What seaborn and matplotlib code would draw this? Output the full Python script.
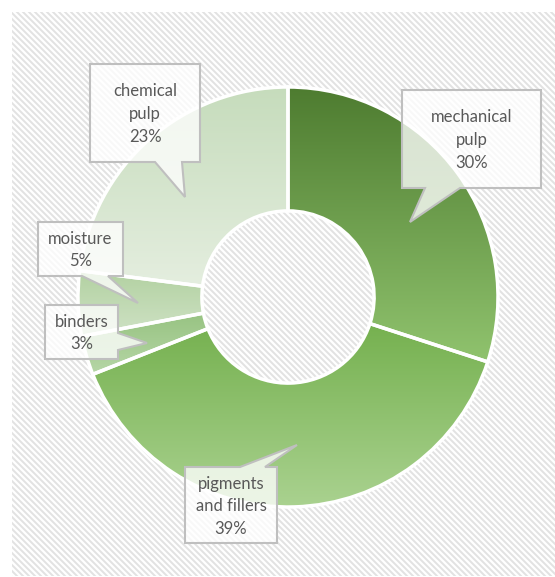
import numpy as np
import matplotlib
matplotlib.use("Agg")
import matplotlib.pyplot as plt
import seaborn as sns
from matplotlib.patches import Rectangle, Polygon
from matplotlib.collections import LineCollection

sns.set_style("white")
plt.rcParams["font.family"] = ["Lato", "DejaVu Sans"]

# data (clockwise from 12 o'clock)
components = ["mechanical\npulp", "pigments\nand fillers", "binders", "moisture", "chemical\npulp"]
shares = [30, 39, 3, 5, 23]

# gradient colours per wedge (top -> bottom)
top_colors = ["#4E7C30", "#6EAC46", "#8FBE78", "#B2D1A1", "#C6DCBC"]
bottom_colors = ["#90C36E", "#AAD290", "#B6D6A6", "#CFE2C5", "#E6EFE1"]

# callout layout in pixels: box (x0, y0, x1, y1), pointer side, pointer base, tip
callouts = [
    ((402, 90, 541, 188), "bottom", (425, 460), (410, 222)),
    ((185, 467, 277, 543), "top", (240, 265), (297, 445)),
    ((45, 305, 118, 359), "right", (333, 350), (147, 343)),
    ((38, 222, 123, 276), "bottom", (82, 108), (138, 303)),
    ((90, 64, 200, 162), "bottom", (155, 182), (185, 197)),
]

W, H = 555, 577
fig = plt.figure(figsize=(W / 100, H / 100), dpi=100)

# background with diagonal stripes
bg = fig.add_axes([0, 0, 1, 1], zorder=0)
bg.set_xlim(0, W)
bg.set_ylim(H, 0)
bg.axis("off")
area = Rectangle((12, 12), W - 12, H - 13, facecolor="white", edgecolor="none")
bg.add_patch(area)
segs = [[(c, 0), (c + H, H)] for c in np.arange(-H, W, 6.0)]
lc = LineCollection(segs, colors="#E2E2E2", linewidths=1.4)
bg.add_collection(lc)
lc.set_clip_path(area)

# donut
cx, cy, r = 288, 297, 210
ax = fig.add_axes([(cx - r) / W, (H - cy - r) / H, 2 * r / W, 2 * r / H], zorder=1)
wedges, _ = ax.pie(shares, startangle=90, counterclock=False, radius=1,
                   wedgeprops=dict(width=0.59, edgecolor="white", linewidth=2.5))
ax.axis("off")
grad = np.linspace(0, 1, 256).reshape(-1, 1)
for w, c0, c1 in zip(wedges, top_colors, bottom_colors):
    verts = w.get_patch_transform().transform(w.get_path().vertices)
    x0, y0 = verts.min(axis=0)
    x1, y1 = verts.max(axis=0)
    cmap = sns.blend_palette([c0, c1], n_colors=256, as_cmap=True)
    im = ax.imshow(grad, cmap=cmap, extent=[x0, x1, y0, y1], origin="upper",
                   aspect="auto", zorder=1)
    im.set_clip_path(w)
    w.set_facecolor("none")
    w.set_zorder(2)
ax.set_xlim(-1, 1)
ax.set_ylim(-1, 1)

# callouts
top = fig.add_axes([0, 0, 1, 1], zorder=2)
top.set_xlim(0, W)
top.set_ylim(H, 0)
top.axis("off")
top.patch.set_alpha(0)
for name, val, (box, side, base, tip) in zip(components, shares, callouts):
    x0, y0, x1, y1 = box
    if side == "bottom":
        pts = [(x0, y0), (x1, y0), (x1, y1), (base[1], y1), tip, (base[0], y1), (x0, y1)]
    elif side == "top":
        pts = [(x0, y0), (base[0], y0), tip, (base[1], y0), (x1, y0), (x1, y1), (x0, y1)]
    else:
        pts = [(x0, y0), (x1, y0), (x1, base[0]), tip, (x1, base[1]), (x1, y1), (x0, y1)]
    top.add_patch(Polygon(pts, closed=True, facecolor=(1, 1, 1, 0.78),
                          edgecolor="#BFBFBF", linewidth=1.5, joinstyle="miter"))
    top.text((x0 + x1) / 2, (y0 + y1) / 2 + 1, f"{name}\n{val}%", ha="center", va="center",
             color="#595959", fontsize=12, linespacing=1.5)

fig.savefig("out.png", dpi=100)
